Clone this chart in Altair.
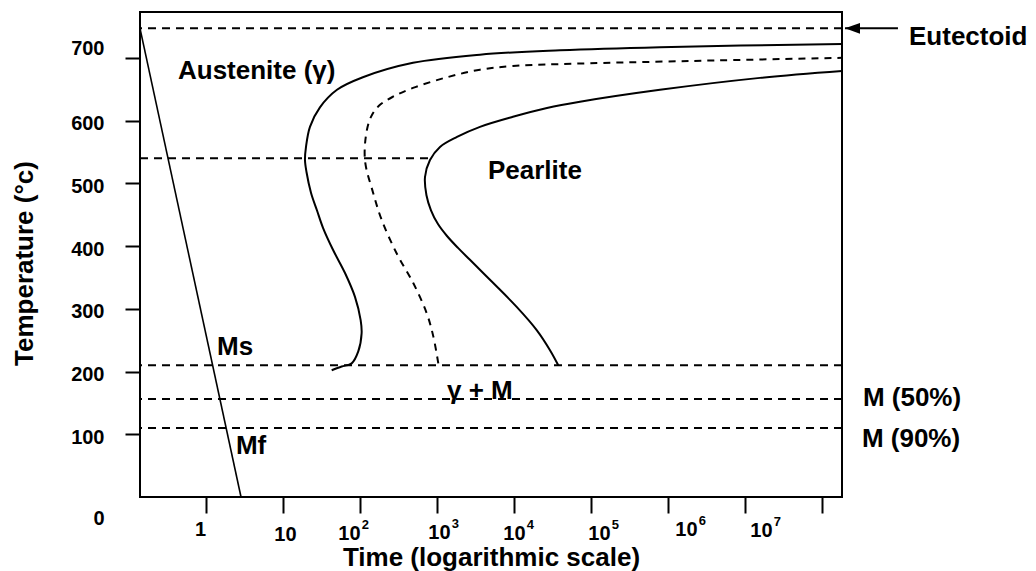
import altair as alt
import pandas as pd

FONT = "Liberation Sans"

# ---- data (time in s, temperature in °C) ----
start_time = [42.9, 57.8, 78.0, 95.0, 105, 102, 86.1, 63.9, 44.6, 33.1, 27.6, 23.1,
              20.2, 19.3, 19.9, 22.4, 30.2, 50.3, 109, 488, 3616, 39600, 787000, 1.82e8]
start_temp = [202, 208, 213, 232, 261, 282, 319, 357, 394, 429, 457, 485,
              518, 537, 558, 590, 621, 649, 669, 692, 705, 712, 717, 722]

mid_time = [1040, 896, 735, 492, 300, 191, 148, 116, 123, 143, 182, 268, 488,
            1349, 3616, 9700, 39600, 2.11e6, 1.82e8]
mid_temp = [213, 256, 293, 341, 388, 442, 485, 537, 585, 609, 625, 638, 652,
            669, 681, 687, 690, 695, 700]

finish_time = [37600, 29360, 19720, 10840, 5380, 2680, 1875, 1349, 1030, 836, 730,
               699, 811, 1094, 1820, 3616, 9700, 26800, 71900, 787000, 1.57e7, 1.82e8]
finish_temp = [210, 234, 266, 303, 341, 378, 397, 416, 435, 457, 481,
               510, 537, 558, 574, 590, 606, 620, 630, 649, 668, 679]

ms_time = [0.139, 2.85]
ms_temp = [747, 0]

hline_temp = [747, 210, 156, 110]          # full-width dashed lines
bay_temp = [540]                            # short dashed line
bay_time = [0.139]
bay_time2 = [861]

arrow_temp = [747]
arrow_tip = [1.99e8]
arrow_tail = [9.7e8]

labels = ["Austenite (γ)", "Pearlite", "Ms", "Mf", "γ + M", "M (50%)", "M (90%)", "Eutectoid"]
label_time = [0.433, 4592, 1.39, 2.45, 1349, 3.4e8, 3.3e8, 1.35e9]
label_temp = [667, 507, 226, 69, 156, 145, 80, 721]

x_ticks = [1, 10, 100, 1e3, 1e4, 1e5, 1e6, 1e7, 1e8]
x_tick_base = ["1", "10", "10", "10", "10", "10", "10", "10", ""]
x_tick_sup = ["", "", "2", "3", "4", "5", "6", "7", ""]
y_ticks = [0, 100, 200, 300, 400, 500, 600, 700]

x_domain = [0.139, 1.82e8]
y_domain = [0, 773]

# ---- styling (hand-placed label jitter of the original drawing) ----
base_shift = [-6, 2, -11, 2, 0, 8, 18, 16, 0]
sup_shift = [0, 0, 5, 18, 16, 24, 34, 32, 0]
base_pad = [6, 11, 10, 9, 10, 10, 6, 7, 0]
sup_pad = [0, 0, 5, 4, 5, 5, 1, 2, 0]


def cond(values, props, default):
    return {"condition": [{"test": f"datum.value == {v:g}", "value": p}
                          for v, p in zip(values, props)], "value": default}


def lexpr(values, texts):
    return " : ".join(f"datum.value == {v:g} ? '{t}'" for v, t in zip(values, texts)) + " : ''"


common_lab = dict(labelFont=FONT, labelFontWeight="bold", labelColor="black",
                  labelFlush=False, labelOverlap=False, domain=False, grid=False)

x_axis = alt.Axis(
    orient="bottom", values=x_ticks, labelExpr=lexpr(x_ticks, x_tick_base),
    tickSize=16, tickWidth=2, tickColor="black", labelFontSize=20,
    labelPadding=cond(x_ticks, base_pad, 10),
    labelOffset=cond(x_ticks, base_shift, 0),
    title="Time (logarithmic scale)", titleFont=FONT, titleFontSize=26,
    titleFontWeight="bold", titleColor="black", titleX=351, titleY=68,
    titleAlign="center", titleBaseline="alphabetic", **common_lab,
)
x_axis_sup = alt.Axis(
    orient="bottom", values=x_ticks, labelExpr=lexpr(x_ticks, x_tick_sup),
    tickSize=16, tickWidth=2, tickOpacity=0, labelFontSize=13,
    labelPadding=cond(x_ticks, sup_pad, 5),
    labelOffset=cond(x_ticks, sup_shift, 0),
    title=None, **common_lab,
)
y_axis = alt.Axis(
    values=y_ticks, tickSize=15, tickWidth=2, tickColor="black",
    tickOpacity={"condition": {"test": "datum.value == 0", "value": 0}, "value": 1},
    labelFontSize=20, labelPadding=21,
    labelOffset={"condition": [{"test": "datum.value == 0", "value": 21},
                               {"test": "datum.value == 700", "value": -9}], "value": 3},
    title="Temperature (°c)", titleFont=FONT, titleFontSize=26,
    titleFontWeight="bold", titleColor="black", titleX=-116, titleY=251,
    titleAngle=270, titleAlign="center", titleBaseline="middle", **common_lab,
)

xscale = alt.Scale(type="log", domain=x_domain, nice=False)
X = alt.X("time:Q", scale=xscale, axis=x_axis)
X_sup = alt.X("time:Q", scale=xscale, axis=x_axis_sup)
Xp = alt.X("time:Q", scale=xscale, axis=None)
Y = alt.Y("temp:Q", scale=alt.Scale(domain=y_domain, nice=False, zero=False), axis=y_axis)


def curve_df(t, T):
    return pd.DataFrame({"time": t, "temp": T, "i": range(len(t))})


start = alt.Chart(curve_df(start_time, start_temp)).mark_line(
    color="black", strokeWidth=2, interpolate="catmull-rom"
).encode(x=X, y=Y, order="i:Q")

mid = alt.Chart(curve_df(mid_time, mid_temp)).mark_line(
    color="black", strokeWidth=2, strokeDash=[7, 6], interpolate="catmull-rom"
).encode(x=Xp, y=Y, order="i:Q")

finish = alt.Chart(curve_df(finish_time, finish_temp)).mark_line(
    color="black", strokeWidth=2, interpolate="catmull-rom"
).encode(x=Xp, y=Y, order="i:Q")

ms = alt.Chart(curve_df(ms_time, ms_temp)).mark_line(
    color="black", strokeWidth=1.6
).encode(x=Xp, y=Y, order="i:Q")

hlines = alt.Chart(pd.DataFrame({"temp": hline_temp})).mark_rule(
    color="black", strokeWidth=2, strokeDash=[8, 6]
).encode(y=Y)

bay = alt.Chart(pd.DataFrame({"time": bay_time, "time2": bay_time2, "temp": bay_temp})).mark_rule(
    color="black", strokeWidth=2, strokeDash=[8, 6]
).encode(x=Xp, x2="time2:Q", y=Y)

arrow_line = alt.Chart(pd.DataFrame({"time": arrow_tip, "time2": arrow_tail, "temp": arrow_temp})).mark_rule(
    color="black", strokeWidth=2
).encode(x=Xp, x2="time2:Q", y=Y)

arrow_head = alt.Chart(pd.DataFrame({"time": arrow_tip, "temp": arrow_temp})).mark_point(
    shape="M0,0L1,-0.36L1,0.36Z", filled=True, color="black", opacity=1, size=900
).encode(x=Xp, y=Y)

texts = alt.Chart(pd.DataFrame({"time": label_time, "temp": label_temp, "label": labels})).mark_text(
    font=FONT, fontSize=26, fontWeight="bold", color="black",
    align="left", baseline="alphabetic"
).encode(x=Xp, y=Y, text="label:N")

sup_axis_layer = alt.Chart(pd.DataFrame({"time": x_ticks})).mark_rule(opacity=0).encode(x=X_sup)

chart = alt.layer(
    hlines, bay, ms, start, mid, finish, arrow_line, arrow_head, texts, sup_axis_layer
).resolve_axis(x="independent").properties(
    width=702, height=485,
    autosize=alt.AutoSizeParams(type="none"),
    padding={"left": 140, "top": 12, "right": 194, "bottom": 74},
    background="white",
).configure_view(stroke="black", strokeWidth=2)

chart.save("out.html", embed_options={"renderer": "svg", "actions": False})
